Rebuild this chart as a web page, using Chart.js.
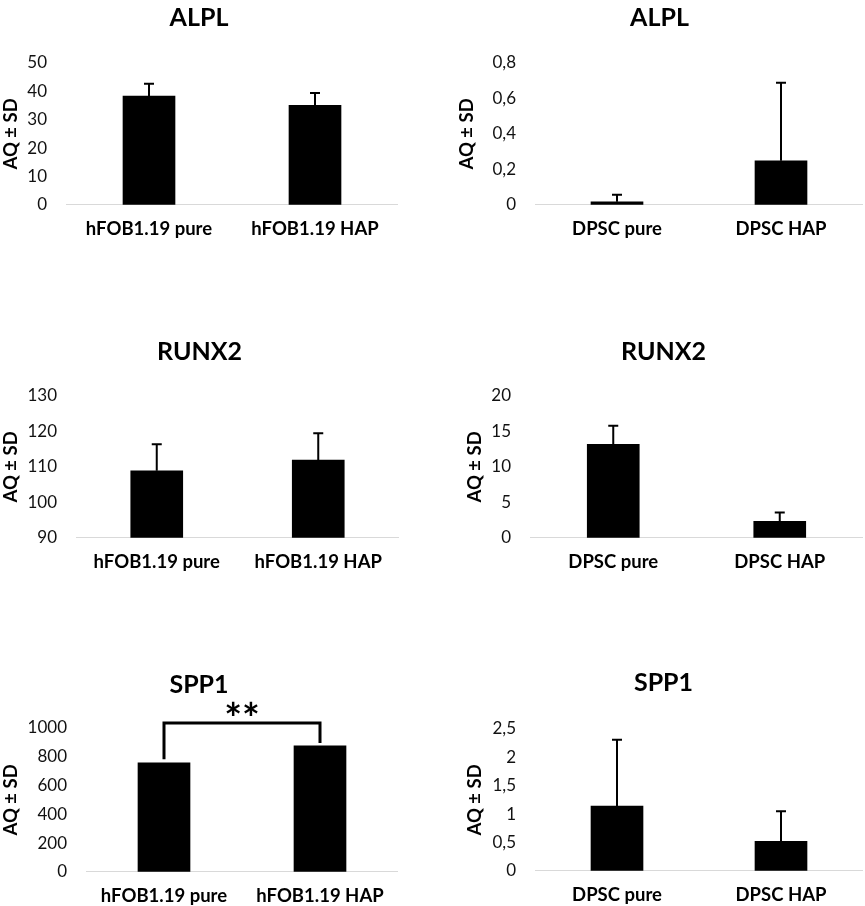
<!DOCTYPE html>
<html>
<head>
<meta charset="utf-8">
<script src="https://cdn.jsdelivr.net/npm/chart.js@4.4.1/dist/chart.umd.min.js"></script>
<style>
  html, body { margin: 0; padding: 0; background: #fff; }
  body { width: 865px; height: 906px; position: relative; overflow: hidden; }
  .panel { position: absolute; }
</style>
</head>
<body>
<div class="panel" style="left:0px;top:3px;width:398px;height:250px"><canvas id="c1"></canvas></div>
<div class="panel" style="left:456px;top:3px;width:407px;height:250px"><canvas id="c2"></canvas></div>
<div class="panel" style="left:0px;top:337px;width:399px;height:249px"><canvas id="c3"></canvas></div>
<div class="panel" style="left:464px;top:337px;width:399px;height:249px"><canvas id="c4"></canvas></div>
<div class="panel" style="left:0px;top:670px;width:398px;height:250px"><canvas id="c5"></canvas></div>
<div class="panel" style="left:464px;top:668px;width:399px;height:251px"><canvas id="c6"></canvas></div>
<script>
// categories
var hfobCats = ['hFOB1.19 pure', 'hFOB1.19 HAP'];
var dpscCats = ['DPSC pure', 'DPSC HAP'];

// AQ values and SD
var alplHfob = [38.3, 35.1];
var alplHfobSd = [4.4, 4.3];
var alplDpsc = [0.017, 0.248];
var alplDpscSd = [0.04, 0.44];
var runx2Hfob = [108.9, 111.9];
var runx2HfobSd = [7.5, 7.6];
var runx2Dpsc = [13.2, 2.33];
var runx2DpscSd = [2.6, 1.23];
var spp1Hfob = [757, 876];
var spp1Dpsc = [1.14, 0.52];
var spp1DpscSd = [1.17, 0.53];

// significance bracket on SPP1 hFOB: left foot, top, right foot
var spp1Bracket = [783, 1035, 896];
var spp1Stars = '**';

// y tick values
var alplHfobTicks = [0, 10, 20, 30, 40, 50];
var alplDpscTicks = [0, 0.2, 0.4, 0.6, 0.8];
var runx2HfobTicks = [90, 100, 110, 120, 130];
var runx2DpscTicks = [0, 5, 10, 15, 20];
var spp1HfobTicks = [0, 200, 400, 600, 800, 1000];
var spp1DpscTicks = [0, 0.5, 1, 1.5, 2, 2.5];

Chart.defaults.color = '#000';
Chart.defaults.font.family = 'Lato';

function errorBars(sd) {
  return {
    id: 'errorBars',
    afterDatasetsDraw: function (chart) {
      if (!sd) return;
      var ctx = chart.ctx, y = chart.scales.y;
      var vals = chart.data.datasets[0].data;
      ctx.save();
      ctx.strokeStyle = '#000';
      ctx.lineWidth = 2;
      chart.getDatasetMeta(0).data.forEach(function (bar, i) {
        var top = y.getPixelForValue(vals[i] + sd[i]);
        ctx.beginPath();
        ctx.moveTo(bar.x, bar.y);
        ctx.lineTo(bar.x, top);
        ctx.moveTo(bar.x - 5, top);
        ctx.lineTo(bar.x + 5, top);
        ctx.stroke();
      });
      ctx.restore();
    }
  };
}

function bracket(levels, label) {
  return {
    id: 'bracket',
    afterDraw: function (chart) {
      if (!levels) return;
      var ctx = chart.ctx, y = chart.scales.y;
      var bars = chart.getDatasetMeta(0).data;
      var x1 = bars[0].x, x2 = bars[1].x;
      var yt = y.getPixelForValue(levels[1]);
      ctx.save();
      ctx.strokeStyle = '#000';
      ctx.lineWidth = 3;
      ctx.beginPath();
      ctx.moveTo(x1, y.getPixelForValue(levels[0]));
      ctx.lineTo(x1, yt);
      ctx.lineTo(x2, yt);
      ctx.lineTo(x2, y.getPixelForValue(levels[2]));
      ctx.stroke();
      ctx.font = 'bold 42px Lato';
      ctx.fillStyle = '#000';
      ctx.textAlign = 'center';
      ctx.textBaseline = 'alphabetic';
      ctx.fillText(label, (x1 + x2) / 2, yt + 11);
      ctx.restore();
    }
  };
}

function fmt(v) {
  return String(+(+v).toFixed(2)).replace('.', ',');
}

function panel(id, title, cats, vals, sd, ticks, yWidth, titleGap, br) {
  new Chart(document.getElementById(id), {
    type: 'bar',
    data: {
      labels: cats,
      datasets: [{
        data: vals,
        backgroundColor: '#000',
        barThickness: 52
      }]
    },
    options: {
      responsive: true,
      maintainAspectRatio: false,
      animation: false,
      layout: { padding: 0 },
      plugins: {
        legend: { display: false },
        tooltip: { enabled: false },
        title: {
          display: true,
          text: title,
          color: '#000',
          font: { size: 25, weight: 'bold', lineHeight: 1.2 },
          padding: { top: 0, bottom: titleGap }
        }
      },
      scales: {
        x: {
          grid: { display: true, drawOnChartArea: false, drawTicks: false },
          border: { display: true, color: '#d9d9d9', width: 1 },
          ticks: { padding: 13, color: '#000', font: { size: 18.5, weight: 'bold' } }
        },
        y: {
          min: ticks[0],
          max: ticks[ticks.length - 1],
          grid: { display: false, drawTicks: false },
          border: { display: false },
          afterBuildTicks: function (s) {
            s.ticks = ticks.map(function (v) { return { value: v }; });
          },
          afterFit: function (s) { s.width = yWidth; },
          ticks: {
            padding: 19,
            color: '#111',
            font: { size: 17 },
            callback: function (v) { return fmt(v); }
          },
          title: {
            display: true,
            text: 'AQ ± SD',
            color: '#000',
            padding: 0,
            font: { size: 18.5, weight: 'bold', lineHeight: 1.2 }
          }
        }
      }
    },
    plugins: [errorBars(sd), bracket(br, spp1Stars)]
  });
}

panel('c1', 'ALPL', hfobCats, alplHfob, alplHfobSd, alplHfobTicks, 66, 30, null);
panel('c2', 'ALPL', dpscCats, alplDpsc, alplDpscSd, alplDpscTicks, 79, 30, null);
panel('c3', 'RUNX2', hfobCats, runx2Hfob, runx2HfobSd, runx2HfobTicks, 76, 29, null);
panel('c4', 'RUNX2', dpscCats, runx2Dpsc, runx2DpscSd, runx2DpscTicks, 66, 29, null);
panel('c5', 'SPP1', hfobCats, spp1Hfob, null, spp1HfobTicks, 86, 28, spp1Bracket);
panel('c6', 'SPP1', dpscCats, spp1Dpsc, spp1DpscSd, spp1DpscTicks, 71, 31, null);
</script>
</body>
</html>
